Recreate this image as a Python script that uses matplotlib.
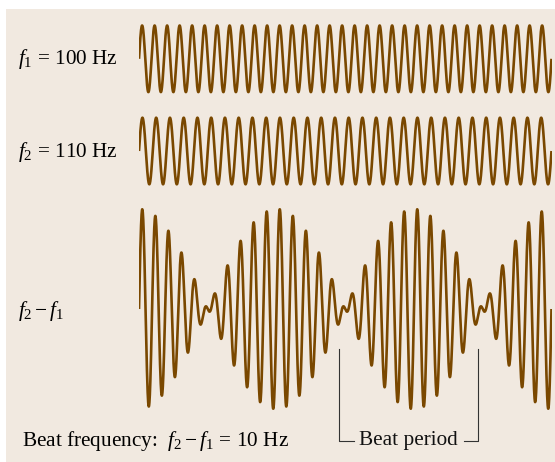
import numpy as np
import matplotlib
matplotlib.use("Agg")
import matplotlib.pyplot as plt
from matplotlib.patches import Rectangle

# labels as printed on the figure
f1_hz = 100
f2_hz = 110
beat_hz = f2_hz - f1_hz

# frequencies actually drawn in each strip (top strip shows more cycles)
top_freq = 110
mid_freq = 100
duration = 0.3          # seconds shown across the strip
n_samples = 4000

# where the "Beat period" bracket sits (seconds)
bracket_t = [0.1457, 0.2468]

wave_color = "#7a4800"
bg_color = "#f1e9e0"

plt.rcParams["font.family"] = ["Liberation Serif", "DejaVu Serif"]
plt.rcParams["mathtext.fontset"] = "custom"
plt.rcParams["mathtext.rm"] = "Liberation Serif"
plt.rcParams["mathtext.it"] = "Liberation Serif:italic"

W, H = 555, 462
fig = plt.figure(figsize=(W / 100, H / 100), dpi=100, facecolor="white")
fig.patches.append(Rectangle((6 / W, 0), 1, (H - 9) / H, transform=fig.transFigure,
                             facecolor=bg_color, edgecolor="none", zorder=-10))

t = np.linspace(0, duration, n_samples)
y_top = np.sin(2 * np.pi * top_freq * t)
y_mid = np.sin(2 * np.pi * mid_freq * t)
y_sum = y_top + y_mid


def px_axes(left, top, width, height):
    # axes placed with pixel geometry (origin top-left)
    ax = fig.add_axes([left / W, (H - top - height) / H, width / W, height / H])
    ax.set_axis_off()
    ax.set_xlim(0, duration)
    return ax


x0, xw = 139, 412.5
ax1 = px_axes(x0, 58.8 - 1.1 * 33.3, xw, 2.2 * 33.3)
ax1.plot(t, y_top, color=wave_color, lw=1.9, solid_capstyle="butt")
ax1.set_ylim(-1.1, 1.1)

ax2 = px_axes(x0, 151 - 1.1 * 33.3, xw, 2.2 * 33.3)
ax2.plot(t, y_mid, color=wave_color, lw=1.9, solid_capstyle="butt")
ax2.set_ylim(-1.1, 1.1)

ax3 = px_axes(x0, 309 - 2.2 * 50, xw, 4.4 * 50)
ax3.plot(t, y_sum, color=wave_color, lw=1.9, solid_capstyle="butt")
ax3.set_ylim(-2.2, 2.2)

fs = 15.3

# beat period bracket
line_kw = dict(color="#333333", lw=0.8, clip_on=False)
ax3.plot([bracket_t[0], bracket_t[0], bracket_t[0] + 0.011], [-0.8, -2.63, -2.63], **line_kw)
ax3.plot([bracket_t[1] - 0.0102, bracket_t[1], bracket_t[1]], [-2.63, -2.63, -0.8], **line_kw)
ax3.text(sum(bracket_t) / 2, -2.63, "Beat period", ha="center", va="center",
         fontsize=fs, color="#111111", clip_on=False)

fig.text(18 / W, (H - 64) / H, r"$f_1$ = %d Hz" % f1_hz, fontsize=fs, va="baseline")
fig.text(18 / W, (H - 156.7) / H, r"$f_2$ = %d Hz" % f2_hz, fontsize=fs, va="baseline")
fig.text(18 / W, (H - 316) / H, r"$f_2 - f_1$", fontsize=fs, va="baseline")
fig.text(21.5 / W, (H - 446) / H,
         r"Beat frequency:  $f_2 - f_1$ = %d Hz" % beat_hz, fontsize=fs, va="baseline")

fig.savefig("out.png", dpi=100, facecolor="white")
